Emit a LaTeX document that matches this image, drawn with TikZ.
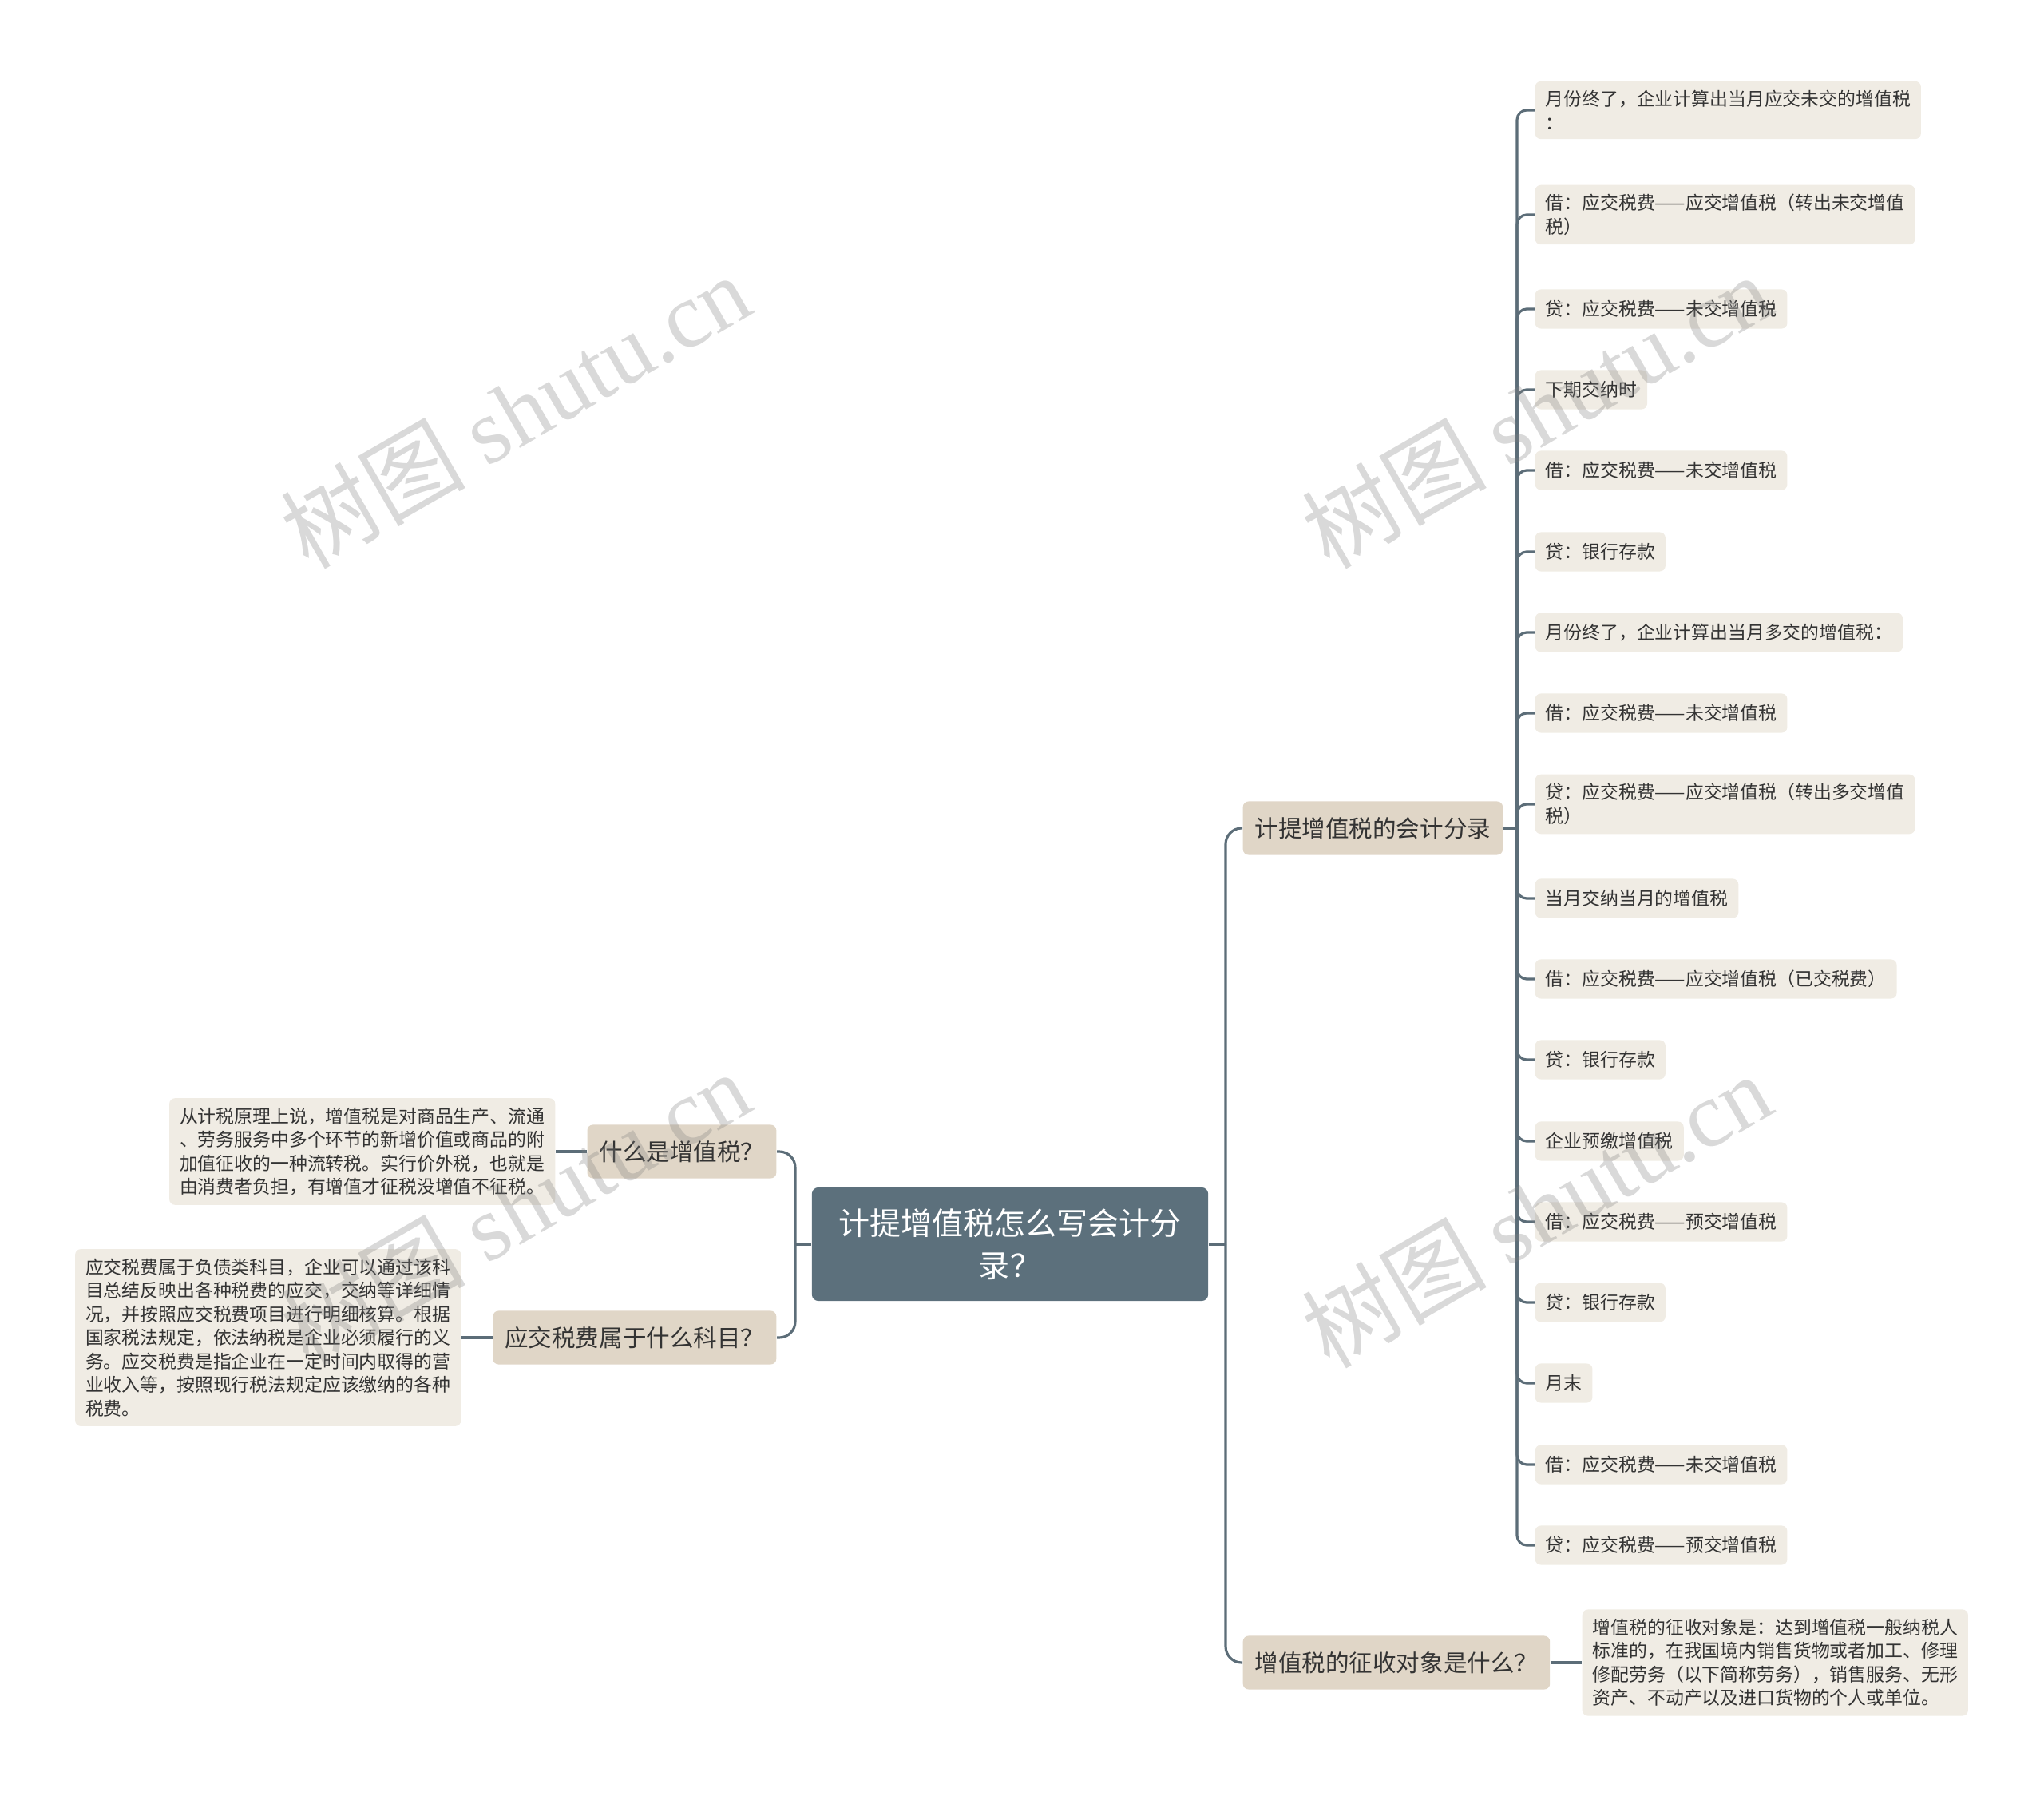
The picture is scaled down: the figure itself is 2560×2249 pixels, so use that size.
\documentclass[tikz,border=0pt]{standalone}
\usepackage{fontspec}
\setmainfont{Noto Sans CJK SC}
\newfontfamily\wmserif{Liberation Serif}
\definecolor{rootfill}{HTML}{5C707C}
\definecolor{lvfill}{HTML}{E0D6C7}
\definecolor{leaffill}{HTML}{F0ECE4}
\definecolor{txt}{HTML}{333333}
\definecolor{linec}{HTML}{5C6D78}
\begin{document}
\begin{tikzpicture}[x=0.01cm,y=-0.01cm,
  rootbox/.style={fill=rootfill, text=white, rounded corners=0.08cm, align=center,
    minimum width=4.96cm, minimum height=1.42cm, inner sep=0pt,
    font=\fontsize{11.1}{14.9}\selectfont},
  lvone/.style={fill=lvfill, text=txt, rounded corners=0.07cm, inner xsep=0.15cm,
    inner ysep=0pt, minimum height=0.67cm, font=\fontsize{8.4}{10}\selectfont},
  leaf/.style={fill=leaffill, text=txt, rounded corners=0.07cm, inner xsep=0.13cm,
    inner ysep=3.3pt, minimum height=0.49cm, align=left,
    font=\fontsize{6.5}{8.4}\selectfont},
  conn/.style={draw=linec, line width=0.9pt},
  wm/.style={rotate=30, text=black!50, text opacity=0.3, font=\fontsize{33}{33}\selectfont, inner sep=0pt}
]
\useasboundingbox (0,0) rectangle (2560,2249);

% root
\node[rootbox] (root) at (1265,1558) {计提增值税怎么写会计分\\录？};

% level one
\node[lvone, anchor=west] (jt) at (1556,1037) {计提增值税的会计分录};
\node[lvone, anchor=west] (zs) at (1556,2082) {增值税的征收对象是什么？};
\node[lvone, anchor=east] (sm) at (973,1442) {什么是增值税？};
\node[lvone, anchor=east] (yj) at (973,1675) {应交税费属于什么科目？};

% left leaves
\node[leaf, anchor=east] (smL) at (696,1442) {从计税原理上说，增值税是对商品生产、流通\\、劳务服务中多个环节的新增价值或商品的附\\加值征收的一种流转税。实行价外税，也就是\\由消费者负担，有增值才征税没增值不征税。};
\node[leaf, anchor=east] (yjL) at (578,1675) {应交税费属于负债类科目，企业可以通过该科\\目总结反映出各种税费的应交，交纳等详细情\\况，并按照应交税费项目进行明细核算。根据\\国家税法规定，依法纳税是企业必须履行的义\\务。应交税费是指企业在一定时间内取得的营\\业收入等，按照现行税法规定应该缴纳的各种\\税费。};
\node[leaf, anchor=west] (zsL) at (1981,2082) {增值税的征收对象是：达到增值税一般纳税人\\标准的，在我国境内销售货物或者加工、修理\\修配劳务（以下简称劳务），销售服务、无形\\资产、不动产以及进口货物的个人或单位。};

% right leaves
\node[leaf, anchor=west] (r1) at (1922,138) {月份终了，企业计算出当月应交未交的增值税\\：};
\node[leaf, anchor=west] (r2) at (1922,269) {借：应交税费——应交增值税（转出未交增值\\税）};
\node[leaf, anchor=west] (r3) at (1922,387) {贷：应交税费——未交增值税};
\node[leaf, anchor=west] (r4) at (1922,488) {下期交纳时};
\node[leaf, anchor=west] (r5) at (1922,589) {借：应交税费——未交增值税};
\node[leaf, anchor=west] (r6) at (1922,691) {贷：银行存款};
\node[leaf, anchor=west] (r7) at (1922,792) {月份终了，企业计算出当月多交的增值税：};
\node[leaf, anchor=west] (r8) at (1922,893) {借：应交税费——未交增值税};
\node[leaf, anchor=west] (r9) at (1922,1007) {贷：应交税费——应交增值税（转出多交增值\\税）};
\node[leaf, anchor=west] (r10) at (1922,1125) {当月交纳当月的增值税};
\node[leaf, anchor=west] (r11) at (1922,1226) {借：应交税费——应交增值税（已交税费）};
\node[leaf, anchor=west] (r12) at (1922,1327) {贷：银行存款};
\node[leaf, anchor=west] (r13) at (1922,1429) {企业预缴增值税};
\node[leaf, anchor=west] (r14) at (1922,1530) {借：应交税费——预交增值税};
\node[leaf, anchor=west] (r15) at (1922,1631) {贷：银行存款};
\node[leaf, anchor=west] (r16) at (1922,1732) {月末};
\node[leaf, anchor=west] (r17) at (1922,1834) {借：应交税费——未交增值税};
\node[leaf, anchor=west] (r18) at (1922,1935) {贷：应交税费——预交增值税};

% junction coordinates
\coordinate (tR) at (1535,1558);
\coordinate (tL) at (996,1558);
\coordinate (tA) at (1900,1037);

% connectors
\draw[conn] (root.east) -- (tR);
\draw[conn, rounded corners=0.2cm] (tR) |- (jt.west);
\draw[conn, rounded corners=0.2cm] (tR) |- (zs.west);
\draw[conn] (root.west) -- (tL);
\draw[conn, rounded corners=0.2cm] (tL) |- (sm.east);
\draw[conn, rounded corners=0.2cm] (tL) |- (yj.east);
\draw[conn] (sm.west) -- (smL.east);
\draw[conn] (yj.west) -- (yjL.east);
\draw[conn] (zs.east) -- (zsL.west);
\draw[conn] (jt.east) -- (tA);
\foreach \i in {1,...,18}{
  \draw[conn, rounded corners=0.12cm] (tA) |- (r\i.west);
}

% watermarks
\node[wm] (w1) at (645,514) {树图 {\wmserif shutu.cn}};
\node[wm] (w2) at (1924,514) {树图 {\wmserif shutu.cn}};
\node[wm] (w3) at (645,1512) {树图 {\wmserif shutu.cn}};
\node[wm] (w4) at (1924,1515) {树图 {\wmserif shutu.cn}};
\end{tikzpicture}
\end{document}
